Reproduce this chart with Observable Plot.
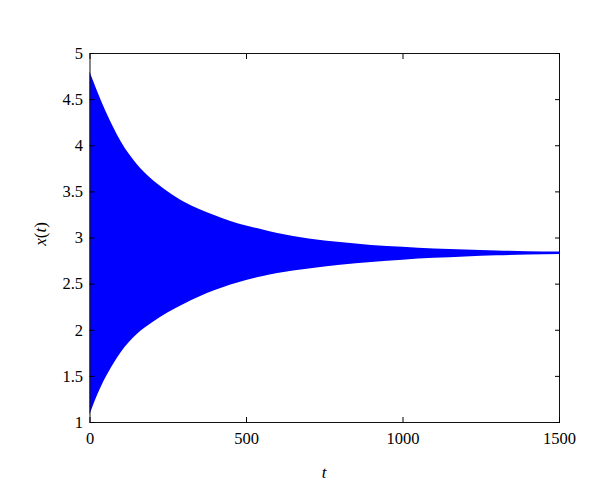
<!DOCTYPE html>
<html><head><meta charset="utf-8">
<script src="https://cdn.jsdelivr.net/npm/d3@7"></script>
<script src="https://cdn.jsdelivr.net/npm/@observablehq/plot@0.6"></script>
<style>body{margin:0;background:#fff}</style>
</head><body><div id="chart"></div>
<script>
// Envelope of the oscillating solution x(t)
const tSamples      = [0, 25, 50, 75, 100, 150, 200, 250, 300, 350, 400, 450, 500, 550, 600, 700, 800, 900, 1000, 1100, 1200, 1300, 1400, 1500];
const upperEnvelope = [4.80, 4.58, 4.38, 4.20, 4.04, 3.80, 3.63, 3.50, 3.39, 3.31, 3.24, 3.18, 3.13, 3.09, 3.05, 2.99, 2.95, 2.92, 2.90, 2.88, 2.87, 2.86, 2.852, 2.848];
const lowerEnvelope = [1.08, 1.30, 1.48, 1.63, 1.76, 1.95, 2.08, 2.19, 2.28, 2.36, 2.43, 2.49, 2.54, 2.58, 2.615, 2.665, 2.705, 2.735, 2.76, 2.78, 2.795, 2.807, 2.815, 2.82];
const xTicks = [0, 500, 1000, 1500];
const yTicks = [1, 1.5, 2, 2.5, 3, 3.5, 4, 4.5, 5];
const xLabel = "t";

const data = tSamples.map((t, i) => ({t, hi: upperEnvelope[i], lo: lowerEnvelope[i]}));

const plot = Plot.plot({
  width: 600, height: 496,
  marginLeft: 89.5, marginRight: 41, marginTop: 53, marginBottom: 74,
  style: {fontFamily: "'Liberation Serif', 'Times New Roman', serif", fontSize: "16.5px", background: "white", color: "black", overflow: "visible"},
  x: {domain: [0, 1500]},
  y: {domain: [1, 5]},
  marks: [
    Plot.areaY(data, {x: "t", y1: "lo", y2: "hi", fill: "#0000ff", curve: "monotone-x"}),
    Plot.frame({stroke: "#111", strokeWidth: 1}),
    Plot.axisX(xTicks, {anchor: "bottom", tickSize: 0, tickPadding: 10, tickFormat: d => String(d), label: null}),
    Plot.axisX(xTicks, {anchor: "bottom", tickSize: -5, fill: "none", label: null}),
    Plot.axisX(xTicks, {anchor: "top", tickSize: -5, fill: "none", label: null}),
    Plot.axisY(yTicks, {anchor: "left", tickSize: 0, tickPadding: 7, tickFormat: d => String(d), label: null}),
    Plot.axisY(yTicks, {anchor: "left", tickSize: -5, fill: "none", label: null}),
    Plot.axisY(yTicks, {anchor: "right", tickSize: -5, fill: "none", label: null})
  ]
});
document.getElementById("chart").appendChild(plot);

const svg = d3.select(plot);
svg.append("text")
  .attr("x", 324).attr("y", 474)
  .attr("text-anchor", "middle").attr("dominant-baseline", "middle")
  .attr("font-style", "italic").attr("font-size", 17)
  .text(xLabel);
const yl = svg.append("text")
  .attr("transform", "translate(42,234) rotate(-90)")
  .attr("text-anchor", "middle").attr("dominant-baseline", "middle")
  .attr("font-size", 17);
yl.append("tspan").attr("font-style", "italic").text("x");
yl.append("tspan").text("(");
yl.append("tspan").attr("font-style", "italic").text("t");
yl.append("tspan").text(")");
</script>
</body></html>
